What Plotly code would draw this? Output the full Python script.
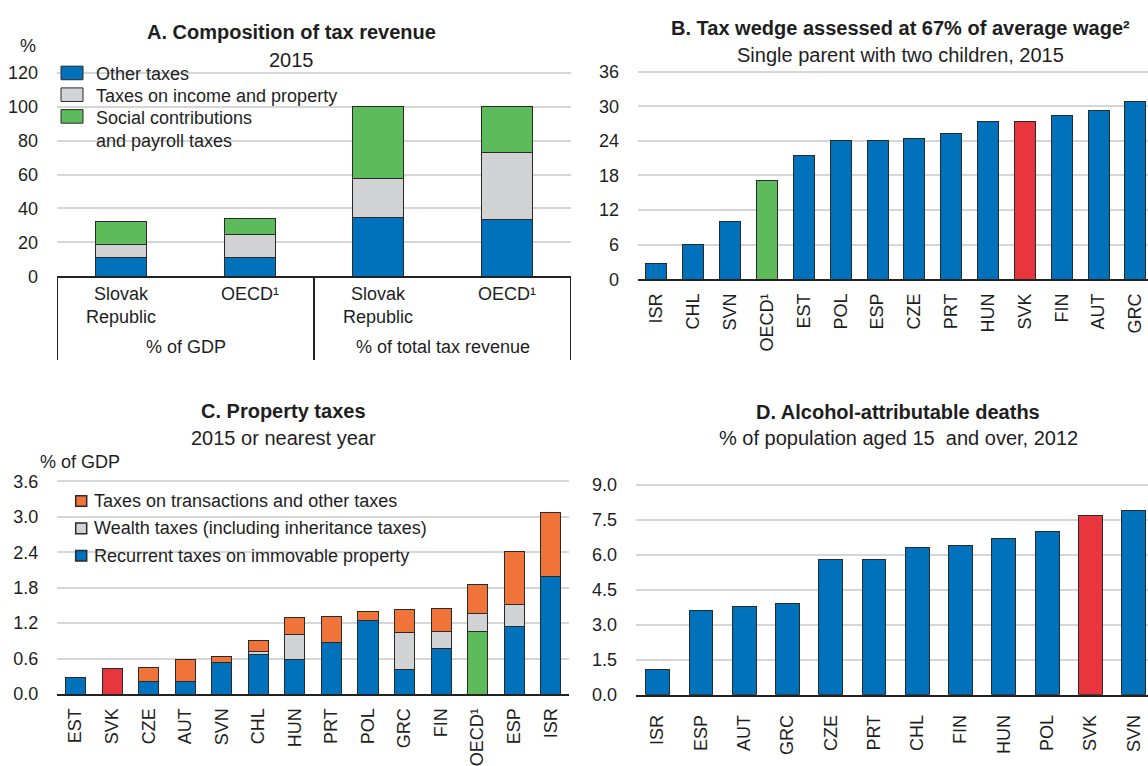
import plotly.graph_objects as go

W, H = 1148, 766
FONT = "Liberation Sans, Arial, Helvetica, sans-serif"
BLUE = "#0072BC"; RED = "#E9353E"; GREEN = "#5DBB5C"; GREY = "#D2D3D5"; ORANGE = "#F07339"
EDGE = "#2A2A2A"; GRID = "#D6D6D6"; TXT = "#1E1E1E"
FS = 18      # tick / legend size
TS = 20      # title size

# ---------------- data ----------------
# Panel A
a_cats = ["Slovak<br>Republic", "OECD¹", "Slovak<br>Republic", "OECD¹"]
a_groups = ["% of GDP", "% of total tax revenue"]
a_other = [11.1, 11.3, 34.5, 33.4]
a_income = [7.4, 13.5, 22.9, 39.4]
a_social = [13.9, 9.5, 42.6, 27.2]
a_legend = ["Other taxes", "Taxes on income and property", "Social contributions<br>and payroll taxes"]

# Panel B
b_cats = ["ISR", "CHL", "SVN", "OECD¹", "EST", "POL", "ESP", "CZE", "PRT", "HUN", "SVK", "FIN", "AUT", "GRC"]
b_vals = [2.8, 6.1, 10.1, 17.1, 21.5, 24.1, 24.1, 24.5, 25.3, 27.3, 27.3, 28.4, 29.3, 30.9]

# Panel C
c_cats = ["EST", "SVK", "CZE", "AUT", "SVN", "CHL", "HUN", "PRT", "POL", "GRC", "FIN", "OECD¹", "ESP", "ISR"]
c_recurrent = [0.28, 0.43, 0.22, 0.22, 0.53, 0.67, 0.59, 0.87, 1.24, 0.42, 0.77, 1.06, 1.14, 1.99]
c_wealth = [0, 0, 0, 0, 0, 0.05, 0.42, 0, 0.01, 0.63, 0.29, 0.30, 0.37, 0]
c_trans = [0, 0.01, 0.23, 0.36, 0.10, 0.18, 0.28, 0.45, 0.15, 0.38, 0.39, 0.50, 0.90, 1.08]
c_legend = ["Taxes on transactions and other taxes",
            "Wealth taxes (including inheritance taxes)",
            "Recurrent taxes on immovable property"]

# Panel D
d_cats = ["ISR", "ESP", "AUT", "GRC", "CZE", "PRT", "CHL", "FIN", "HUN", "POL", "SVK", "SVN"]
d_vals = [1.1, 3.6, 3.8, 3.9, 5.8, 5.8, 6.3, 6.4, 6.7, 7.0, 7.7, 7.9]


def px(x):
    return x / W


def py(y):
    return 1 - y / H


def hl(cats, base, special):
    return [special.get(c, base) for c in cats]


fig = go.Figure()
line = dict(color=EDGE, width=1)

# Panel A bars
a_x = list(range(len(a_cats)))
for vals, col in [(a_other, BLUE), (a_income, GREY), (a_social, GREEN)]:
    fig.add_trace(go.Bar(x=a_x, y=vals, marker=dict(color=col, line=line), width=0.4,
                         xaxis="x", yaxis="y", hoverinfo="skip"))

# Panel B bars
fig.add_trace(go.Bar(x=b_cats, y=b_vals, width=0.57,
                     marker=dict(color=hl(b_cats, BLUE, {"OECD¹": GREEN, "SVK": RED}), line=line),
                     xaxis="x2", yaxis="y2"))

# Panel C bars
fig.add_trace(go.Bar(x=c_cats, y=c_recurrent, width=0.55,
                     marker=dict(color=hl(c_cats, BLUE, {"OECD¹": GREEN, "SVK": RED}), line=line),
                     xaxis="x3", yaxis="y3"))
fig.add_trace(go.Bar(x=c_cats, y=c_wealth, width=0.55, marker=dict(color=GREY, line=line),
                     xaxis="x3", yaxis="y3"))
fig.add_trace(go.Bar(x=c_cats, y=c_trans, width=0.55, marker=dict(color=ORANGE, line=line),
                     xaxis="x3", yaxis="y3"))

# Panel D bars
fig.add_trace(go.Bar(x=d_cats, y=d_vals, width=0.55,
                     marker=dict(color=hl(d_cats, BLUE, {"SVK": RED}), line=line),
                     xaxis="x4", yaxis="y4"))

tickfont = dict(family=FONT, size=FS, color=TXT)
common_y = dict(showgrid=True, gridcolor=GRID, gridwidth=2, zeroline=False, showline=False,
                ticks="", tickfont=tickfont, ticklabelstandoff=18, fixedrange=True)
common_x = dict(showgrid=False, zeroline=False, showline=True, linecolor="#222222", linewidth=2,
                ticks="", tickfont=tickfont, fixedrange=True)

fig.update_layout(
    width=W, height=H, margin=dict(l=0, r=0, t=0, b=0),
    paper_bgcolor="white", plot_bgcolor="white", barmode="stack", showlegend=False,
    font=dict(family=FONT, size=FS, color=TXT),
    xaxis=dict(common_x, domain=[px(57), px(571)], range=[-0.5, 3.5], showticklabels=False, anchor="y"),
    yaxis=dict(common_y, domain=[py(277.7), py(277.7 - 122 * 1.75)], range=[0, 122],
               tickvals=[0, 20, 40, 60, 80, 100, 120], anchor="x"),
    xaxis2=dict(common_x, domain=[px(638), 1.0], range=[-0.5, 13.34], tickangle=-90,
                ticklabelstandoff=5, anchor="y2"),
    yaxis2=dict(common_y, domain=[py(280.7), py(280.7 - 36.6 * 5.944)], range=[0, 36.6],
                tickvals=[0, 6, 12, 18, 24, 30, 36], anchor="x2"),
    xaxis3=dict(common_x, domain=[px(57.3), px(569)], range=[-0.5, 13.5], tickangle=-90,
                ticklabelstandoff=5, anchor="y3"),
    yaxis3=dict(common_y, domain=[py(708.3), py(708.3 - 3.65 * 60.9)], range=[0, 3.65],
                tickvals=[0, 0.6, 1.2, 1.8, 2.4, 3.0, 3.6], tickformat=".1f", anchor="x3"),
    xaxis4=dict(common_x, domain=[px(636), 1.0], range=[-0.5, 11.33], tickangle=-90,
                ticklabelstandoff=11, anchor="y4"),
    yaxis4=dict(common_y, domain=[py(709), py(709 - 9.15 * 24.04)], range=[0, 9.15],
                tickvals=[0, 1.5, 3, 4.5, 6, 7.5, 9], tickformat=".1f", anchor="x4"),
)

ann = []
shapes = []


def text(x, y, s, size=FS, bold=False, xanchor="center"):
    ann.append(dict(x=px(x), y=py(y), xref="paper", yref="paper", text=f"<b>{s}</b>" if bold else s,
                    showarrow=False, xanchor=xanchor, yanchor="middle",
                    font=dict(family=FONT, size=size, color=TXT)))


# titles
text(291, 26, "A. Composition of tax revenue", TS, True)
text(291, 55, "2015", TS)
text(900, 22, "B. Tax wedge assessed at 67% of average wage²", TS, True)
text(900, 50, "Single parent with two children, 2015", TS)
text(283, 417, "C. Property taxes", TS, True)
text(283, 444, "2015 or nearest year", TS)
text(898, 418, "D. Alcohol-attributable deaths", TS, True)
text(898, 444, "% of population aged 15\u00a0 and over, 2012", TS)
text(28, 40, "%", FS)
text(38, 469, "% of GDP", FS, xanchor="left")

# Panel A category labels (data coords on x)
for i, c in enumerate(a_cats):
    ann.append(dict(x=i, y=py(284), xref="x", yref="paper", text=c, showarrow=False,
                    yanchor="top", xanchor="center", font=dict(family=FONT, size=FS, color=TXT)))
for g, gname in enumerate(a_groups):
    ann.append(dict(x=2 * g + 0.5, y=py(351), xref="x", yref="paper", text=gname, showarrow=False,
                    yanchor="middle", xanchor="center", font=dict(family=FONT, size=FS, color=TXT)))
for xv in [-0.5, 1.5, 3.5]:
    shapes.append(dict(type="line", xref="x", yref="paper", x0=xv, x1=xv, y0=py(277.7), y1=py(364),
                       line=dict(color="#222222", width=2)))

# Panel A legend
for k, (lab, col) in enumerate(zip(a_legend, [BLUE, GREY, GREEN])):
    y0 = 61 + k * 22.4
    shapes.append(dict(type="rect", xref="paper", yref="paper", x0=px(61), x1=px(83),
                       y0=py(y0), y1=py(y0 + 14), fillcolor=col, line=dict(color=EDGE, width=1)))
    ann.append(dict(x=px(94), y=py(y0 - 4), xref="paper", yref="paper", text=lab, showarrow=False,
                    xanchor="left", yanchor="top", align="left",
                    font=dict(family=FONT, size=FS, color=TXT)))

# Panel C legend
for k, (lab, col) in enumerate(zip(c_legend, [ORANGE, GREY, BLUE])):
    yc = 509.3 + k * 28.2
    shapes.append(dict(type="rect", xref="paper", yref="paper", x0=px(75.7), x1=px(86.7),
                       y0=py(yc - 5.5), y1=py(yc + 5.5), fillcolor=col, line=dict(color=EDGE, width=1.5)))
    text(91.5, yc, lab, FS, xanchor="left")

fig.update_layout(annotations=ann, shapes=shapes)
fig.write_html("out.html", config={"displayModeBar": False},
               post_script="document.body.style.margin='0';document.body.style.overflow='hidden';")
